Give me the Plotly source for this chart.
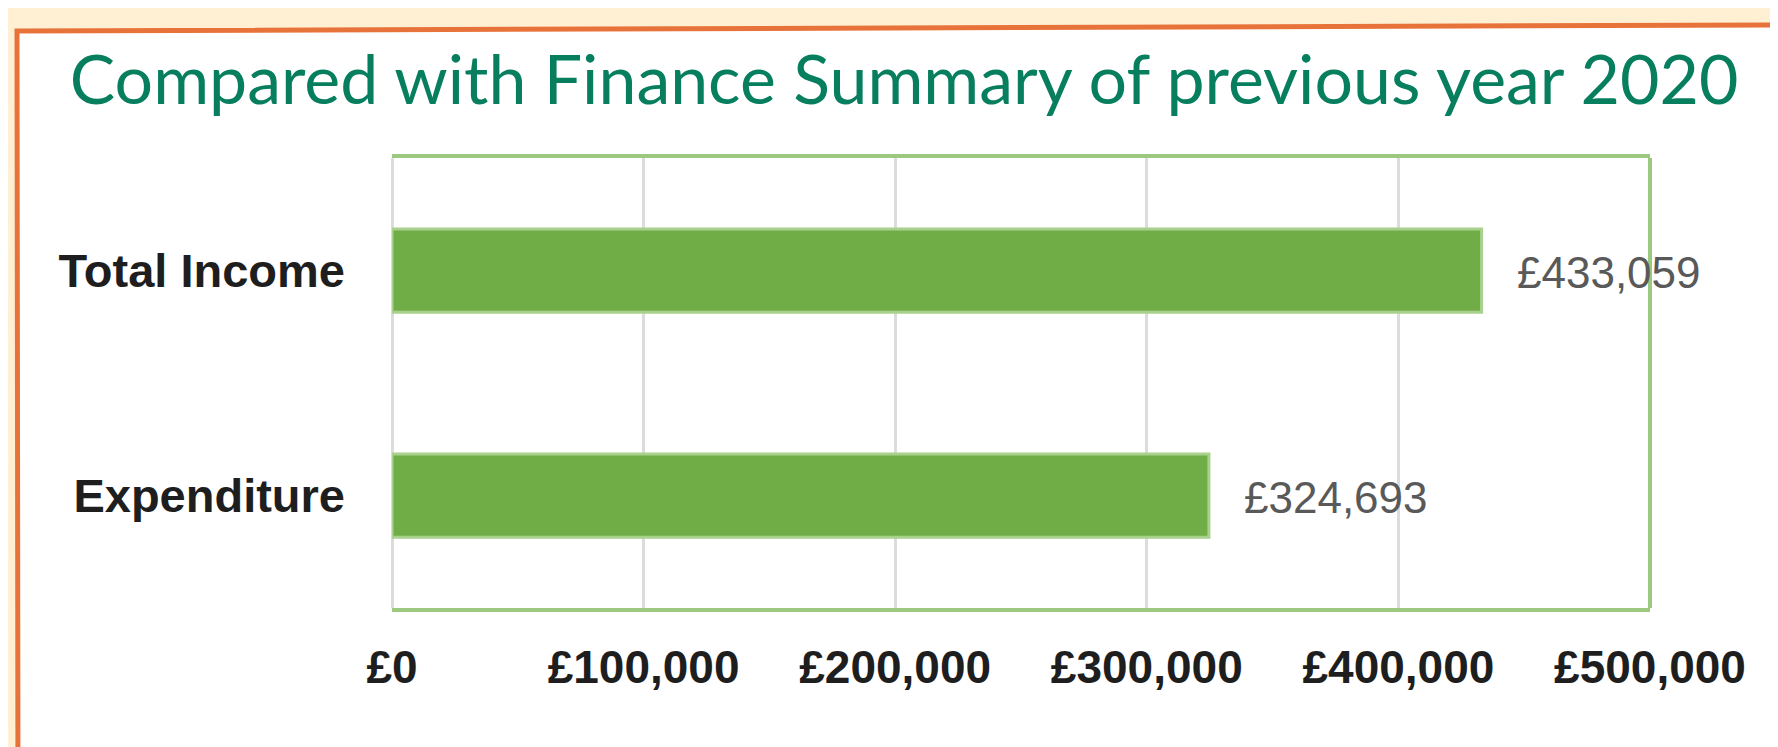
import plotly.graph_objects as go

# ---- data ----
categories = ["Total Income", "Expenditure"]
values = [433059, 324693]
tick_values = [0, 100000, 200000, 300000, 400000, 500000]
tick_labels = ["£0", "£100,000", "£200,000", "£300,000", "£400,000", "£500,000"]
title_text = "Compared with Finance Summary of previous year 2020"

W, H = 1778, 747
L, R, T, B = 384, 136, 150, 147
pw = W - L - R
ph = H - T - B

def px2x(p):
    return (p - L) / pw

def py2y(p):
    return (H - B - p) / ph

fig = go.Figure()
fig.add_trace(go.Bar(
    x=values, y=categories, orientation="h",
    marker=dict(color="#70AD47", line=dict(color="#A9D18E", width=3)),
    hoverinfo="skip",
))

for c, v in zip(categories, values):
    fig.add_annotation(
        x=v, y=c, xref="x", yref="y", text=f"£{v:,}", showarrow=False,
        xanchor="left", yanchor="middle", xshift=33, yshift=-2,
        font=dict(family="Liberation Sans, Arial, sans-serif", size=44, color="#595959"),
    )

shapes = [
    # white card with orange hand-drawn border
    dict(type="path", xref="paper", yref="paper", layer="below",
         path=(f"M {px2x(9)},{py2y(23)} L {px2x(1773)},{py2y(17)} "
               f"L {px2x(1775)},{py2y(800)} L {px2x(10)},{py2y(800)} Z"),
         fillcolor="white", line=dict(color="#E8733A", width=5)),
    # right border of plot area
    dict(type="line", xref="paper", yref="paper", x0=1, x1=1, y0=0, y1=1,
         line=dict(color="#9CC97F", width=4)),
]

fig.update_layout(
    width=W, height=H,
    margin=dict(l=L, r=R, t=T, b=B, autoexpand=False),
    paper_bgcolor="#FFF0D4",
    plot_bgcolor="rgba(0,0,0,0)",
    showlegend=False,
    bargap=0.63,
    shapes=shapes,
    title=dict(
        text=title_text, xref="container", yref="container",
        x=0.504, y=1 - 72 / H, xanchor="center", yanchor="middle",
        font=dict(family="Lato, Noto Sans, sans-serif", size=68, color="#077F5F"),
    ),
)

fig.update_xaxes(
    range=[0, 500000], tickvals=tick_values, ticktext=tick_labels,
    showgrid=True, gridcolor="#DCDCDC", gridwidth=3,
    zeroline=True, zerolinecolor="#DCDCDC", zerolinewidth=3,
    showline=True, mirror=True, linecolor="#9CC97F", linewidth=4,
    ticks="", ticklabelstandoff=16,
    tickfont=dict(family="Liberation Sans, Arial, sans-serif", size=46, color="#1E1E1E", weight="bold"),
    fixedrange=True,
)
fig.update_yaxes(
    categoryorder="array", categoryarray=categories[::-1],
    showgrid=False, zeroline=False, showline=False,
    ticks="", ticklabelstandoff=46,
    tickfont=dict(family="Liberation Sans, Arial, sans-serif", size=47, color="#1E1E1E", weight="bold"),
    fixedrange=True,
)

fig.write_html("out.html")
